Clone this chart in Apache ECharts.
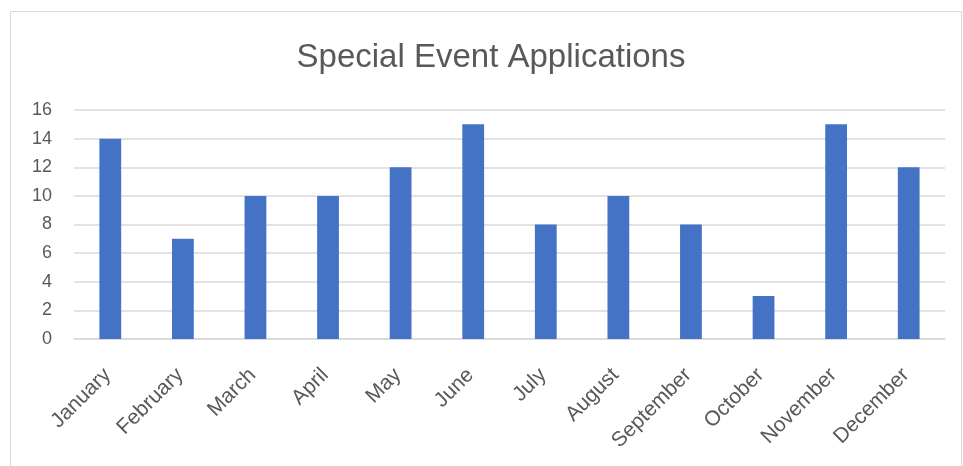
<!DOCTYPE html>
<html><head><meta charset="utf-8">
<script src="https://cdn.jsdelivr.net/npm/echarts@6/dist/echarts.min.js"></script>
<style>html,body{margin:0;padding:0;background:#fff}#c{width:963px;height:466px}</style>
</head><body><div id="c"></div>
<script>
const categories = ["January","February","March","April","May","June","July","August","September","October","November","December"];
const values = [14,7,10,10,12,15,8,10,8,3,15,12];
const title = "Special Event Applications";
const chart = echarts.init(document.getElementById('c'));
const font = "'Liberation Sans', Arial, sans-serif";
chart.setOption({
  animation:false,
  graphic:[{type:'rect',shape:{x:10.5,y:11.5,width:951,height:470},style:{fill:'none',stroke:'#d9d9d9',lineWidth:1}}],
  title:{text:title,left:486,textAlign:'center',top:36,textStyle:{fontFamily:font,fontSize:33,fontWeight:'normal',color:'#595959'}},
  grid:{left:74,right:18,top:110,bottom:127,containLabel:false},
  xAxis:{type:'category',data:categories,axisTick:{show:false},
    axisLine:{lineStyle:{color:'#d9d9d9',width:1.5}},
    axisLabel:{rotate:45,interval:0,fontFamily:font,fontSize:21,color:'#595959',margin:30,padding:[0,4,0,0]}},
  yAxis:{type:'value',min:0,max:16,interval:2,
    axisLine:{show:false},axisTick:{show:false},
    splitLine:{lineStyle:{color:'#d9d9d9',width:1.5}},
    axisLabel:{fontFamily:font,fontSize:18,color:'#595959',margin:22}},
  series:[{type:'bar',data:values,barWidth:'30%',itemStyle:{color:'#4472c4'}}]
});
</script></body></html>
